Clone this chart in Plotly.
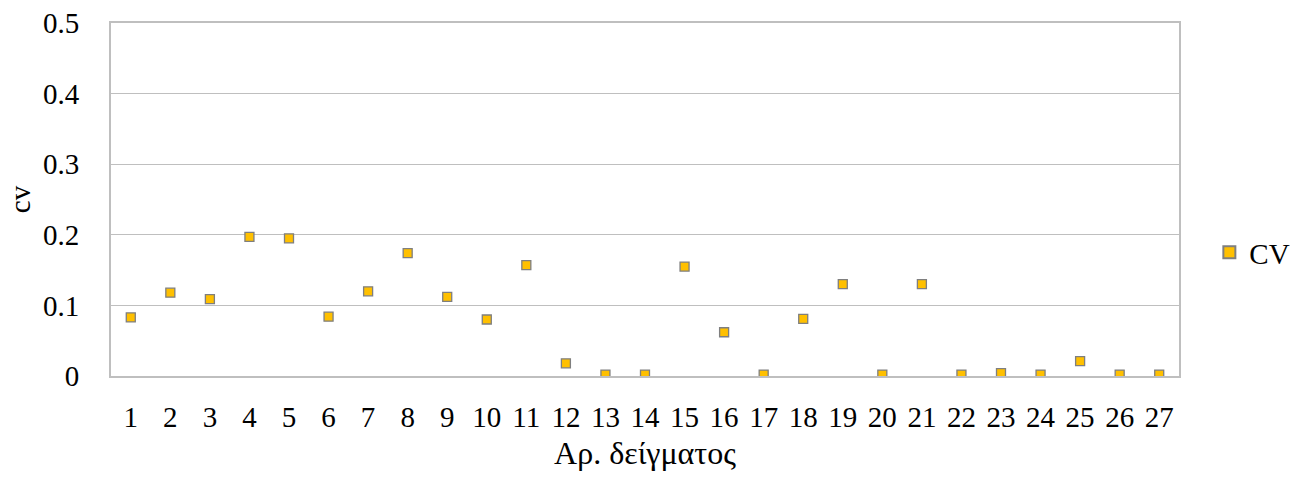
import plotly.graph_objects as go

samples = list(range(1, 28))
cv_values = [0.083, 0.118, 0.109, 0.197, 0.195, 0.084, 0.120, 0.174, 0.112, 0.080,
             0.157, 0.018, 0.002, 0.002, 0.155, 0.062, 0.002, 0.081, 0.130, 0.002,
             0.130, 0.002, 0.004, 0.002, 0.021, 0.002, 0.002]
y_ticks = [0, 0.1, 0.2, 0.3, 0.4, 0.5]
y_tick_labels = ["0", "0.1", "0.2", "0.3", "0.4", "0.5"]

font_family = "Liberation Serif, Times New Roman, serif"
FS = 29

fig = go.Figure()
fig.add_trace(go.Scatter(
    x=samples, y=cv_values, mode="markers", name="CV",
    marker=dict(symbol="square", size=9, color="#FFC000",
                line=dict(color="#7F7F7F", width=1.3)),
))

fig.update_layout(
    width=1306, height=487,
    margin=dict(l=111, r=127, t=23, b=111, autoexpand=False),
    paper_bgcolor="white", plot_bgcolor="white",
    font=dict(family=font_family, size=FS, color="black"),
    showlegend=True,
    legend=dict(xref="container", x=0.926, y=0.35, xanchor="left", yanchor="middle",
                font=dict(size=FS), itemsizing="constant"),
    xaxis=dict(
        range=[0.5, 27.5], tickmode="array", tickvals=samples,
        ticktext=[str(s) for s in samples],
        showgrid=False, zeroline=False,
        showline=True, linecolor="#BFBFBF", linewidth=2, mirror=True,
        ticks="", ticklabelstandoff=14,
        title=dict(text="Αρ. δείγματος", font=dict(size=32), standoff=10),
        tickfont=dict(size=FS), automargin=False,
    ),
    yaxis=dict(
        range=[0, 0.5], tickmode="array", tickvals=y_ticks, ticktext=y_tick_labels,
        showgrid=True, gridcolor="#BFBFBF", gridwidth=1, zeroline=False,
        showline=True, linecolor="#BFBFBF", linewidth=2, mirror=True,
        ticks="", ticklabelstandoff=24,
        title=dict(text="cv", font=dict(size=FS), standoff=4),
        tickfont=dict(size=FS), automargin=False,
    ),
)

fig.write_html("out.html")
